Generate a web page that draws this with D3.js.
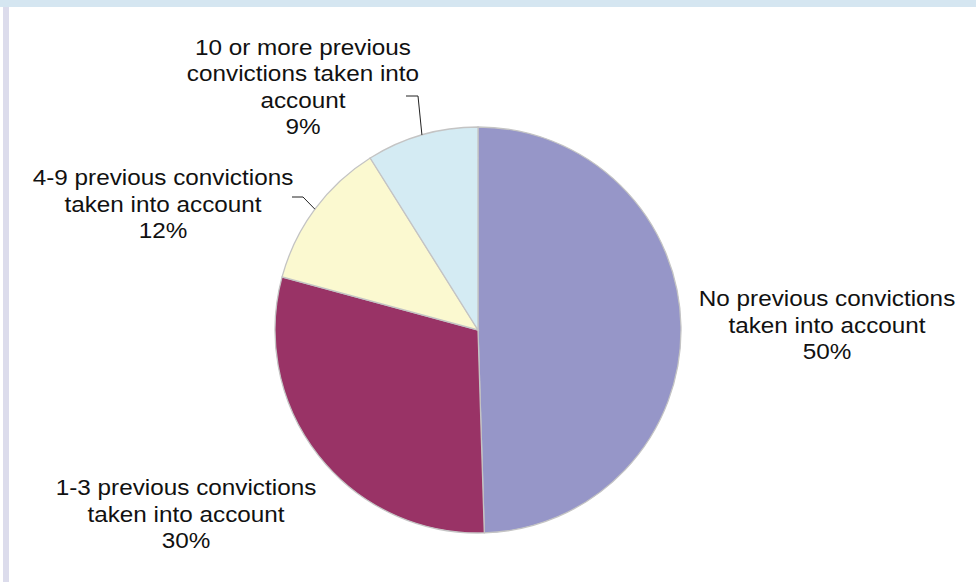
<!DOCTYPE html>
<html>
<head>
<meta charset="utf-8">
<script src="https://cdn.jsdelivr.net/npm/d3@7"></script>
<style>
  html, body { margin: 0; padding: 0; background: #fff; }
  svg { display: block; }
  text { font-family: "Liberation Sans", Arial, sans-serif; fill: #111; }
</style>
</head>
<body>
<svg id="chart" width="976" height="582"></svg>
<script>
// Share of offenders by previous convictions taken into account
const categories = [
  "No previous convictions taken into account",
  "1-3 previous convictions taken into account",
  "4-9 previous convictions taken into account",
  "10 or more previous convictions taken into account"
];
const values = [50, 30, 12, 9];
const labelLines = [
  ["No previous convictions", "taken into account"],
  ["1-3 previous convictions", "taken into account"],
  ["4-9 previous convictions", "taken into account"],
  ["10 or more previous", "convictions taken into", "account"]
];
const colors = ["#9696c8", "#993366", "#fbf9d0", "#d4ebf3"];

const svg = d3.select("#chart");
const W = 976, H = 582;

// frame: light blue band along the top, lavender bar down the left
svg.append("rect").attr("x", 0).attr("y", 0).attr("width", W).attr("height", 7).attr("fill", "#d5e6f1");
svg.append("rect").attr("x", 3).attr("y", 7).attr("width", 6).attr("height", H - 7).attr("fill", "#dcdcec");

const cx = 478, cy = 330, R = 203;
const g = svg.append("g").attr("transform", `translate(${cx},${cy})`);

const pie = d3.pie().sort(null).value(d => d.value);
const data = pie(values.map((v, i) => ({ name: categories[i], value: v, lines: labelLines[i], color: colors[i] })));
const arc = d3.arc().innerRadius(0).outerRadius(R);

g.selectAll("path.slice")
  .data(data)
  .join("path")
  .attr("class", "slice")
  .attr("d", arc)
  .attr("fill", d => d.data.color)
  .attr("stroke", "#c4c4c4")
  .attr("stroke-width", 1.3);

// label anchors (centre of text block, relative to pie centre) and leader elbows
const layout = [
  { x: 349, y: -5, leader: null },
  { x: -292, y: 184, leader: null },
  { x: -315, y: -126, leader: { ex: -175, ey: -133, hx: -186 } },
  { x: -175, y: -243, leader: { ex: -60, ey: -234, hx: -72 } }
];

const lineH = 26.5;
const fontSize = 21.5;

data.forEach((d, i) => {
  const L = layout[i];
  const lines = d.data.lines.concat([d3.format(".0f")(d.data.value) + "%"]);
  const n = lines.length;
  const top = L.y - (n - 1) * lineH / 2;
  const t = svg.append("text")
    .attr("text-anchor", "middle")
    .attr("font-size", fontSize)
    .attr("transform", `translate(${cx + L.x},0) scale(1.13,1)`);
  lines.forEach((s, k) => {
    t.append("tspan")
      .attr("x", 0)
      .attr("y", cy + top + k * lineH + fontSize * 0.35)
      .text(s);
  });

  if (L.leader) {
    const a = (d.startAngle + d.endAngle) / 2;
    const px = Math.sin(a) * R, py = -Math.cos(a) * R;
    g.append("polyline")
      .attr("points", [[L.leader.hx, L.leader.ey], [L.leader.ex, L.leader.ey], [px, py]].map(p => p.join(",")).join(" "))
      .attr("fill", "none")
      .attr("stroke", "#222")
      .attr("stroke-width", 1);
  }
});
</script>
</body>
</html>
